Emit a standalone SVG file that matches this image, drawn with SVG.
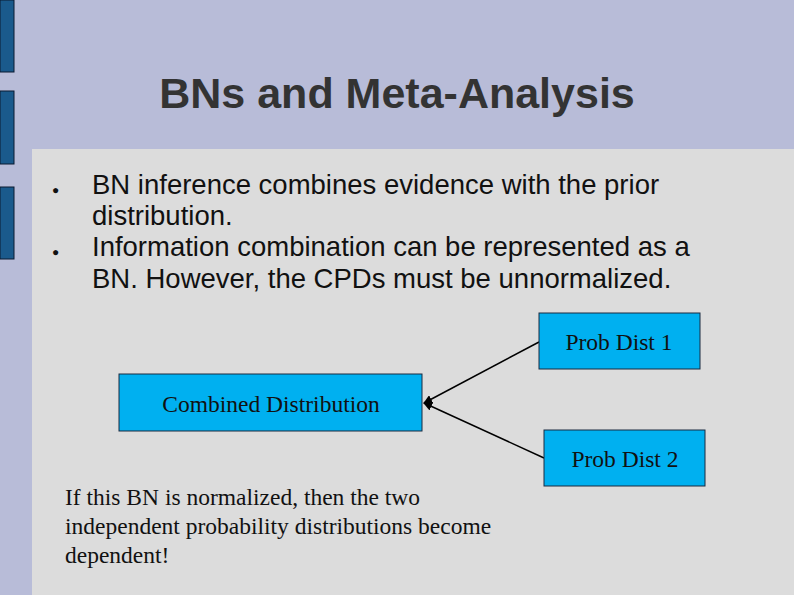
<svg xmlns="http://www.w3.org/2000/svg" width="794" height="595" viewBox="0 0 794 595">
<defs>
<style>
.bar{fill:#1a5a8c;stroke:#0a1a30;stroke-width:1}
.node{fill:#00b0f0;stroke:#1a2a40;stroke-width:1}
.nt{font-family:"Liberation Serif",serif;font-size:23.5px;fill:#111}
.bt{font-family:"Liberation Sans",sans-serif;font-size:27.5px;fill:#111}
.edge{stroke:#000;stroke-width:1.5;fill:none;marker-end:url(#ah)}
</style>
<marker id="ah" viewBox="0 0 10 10" refX="9" refY="5" markerWidth="6" markerHeight="6" orient="auto"><path d="M0,0 L10,5 L0,10 z" fill="#000"/></marker>
</defs>
<rect width="794" height="595" fill="#b8bcd8"/>
<rect x="32" y="149" width="762" height="446" fill="#dcdcdc"/>
<rect class="bar" x="0" y="0" width="14" height="72"/>
<rect class="bar" x="0" y="91" width="14" height="73"/>
<rect class="bar" x="0" y="187" width="14" height="72"/>
<text x="397" y="108" text-anchor="middle" font-family="Liberation Sans,sans-serif" font-weight="bold" font-size="43" fill="#333">BNs and Meta-Analysis</text>
<g class="bt" xml:space="preserve">
<text x="52" y="194" font-size="12">●</text>
<text x="92" y="194">BN inference combines evidence with the prior</text>
<text x="92" y="225">distribution.</text>
<text x="52" y="256" font-size="12">●</text>
<text x="92" y="256">Information combination can be represented as a</text>
<text x="92" y="288">BN.  However, the CPDs must be unnormalized.</text>
</g>
<g id="connectors">
<line class="edge" x1="539" y1="342" x2="424" y2="403"/>
<line class="edge" x1="544" y1="458" x2="424" y2="403"/>
</g>
<g id="pd1"><rect class="node" x="539" y="313" width="161" height="56"/><text class="nt" x="619" y="350" text-anchor="middle">Prob Dist 1</text></g>
<g id="combined"><rect class="node" x="119" y="374" width="303" height="57"/><text class="nt" x="271" y="412" text-anchor="middle">Combined Distribution</text></g>
<g id="pd2"><rect class="node" x="544" y="430" width="161" height="56"/><text class="nt" x="625" y="467" text-anchor="middle">Prob Dist 2</text></g>
<g class="nt">
<text x="65" y="505">If this BN is normalized, then the two</text>
<text x="65" y="534">independent probability distributions become</text>
<text x="65" y="563">dependent!</text>
</g>
</svg>
